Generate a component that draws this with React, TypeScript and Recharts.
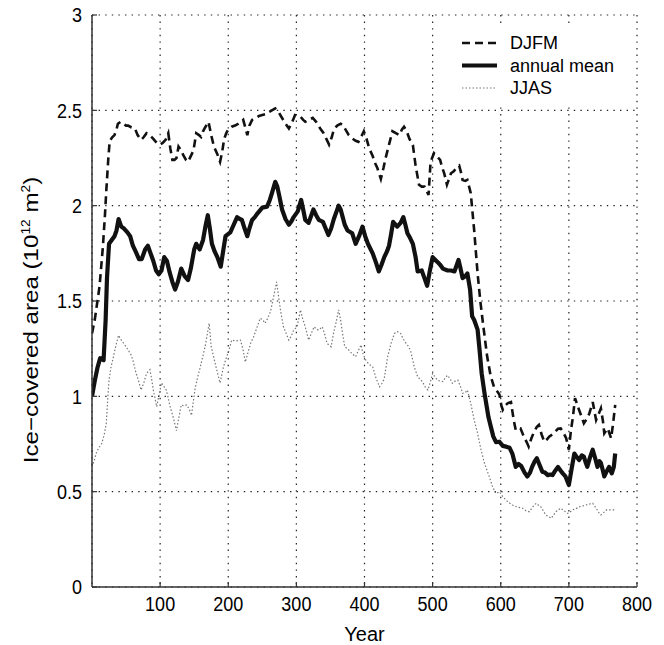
import { CartesianGrid, Label, Legend, Line, LineChart, XAxis, YAxis } from "recharts";

const FONT = '"Liberation Sans", Arial, Helvetica, sans-serif';
const AXIS = "#333";

const X_TICKS = [100, 200, 300, 400, 500, 600, 700, 800];
const Y_TICKS = [0, 0.5, 1, 1.5, 2, 2.5, 3];

// annual mean (solid)
const meanYears = [0, 4, 8, 12, 17, 20, 22, 25, 29, 33, 36, 39, 43, 47, 52, 56, 60, 64, 69, 73, 78, 82, 86, 90, 94, 98, 102, 106, 110, 114, 118, 122, 126, 131, 136, 141, 145, 150, 153, 158, 163, 167, 170, 173, 176, 180, 184, 189, 192, 196, 203, 208, 213, 217, 220, 224, 228, 231, 235, 239, 243, 250, 257, 261, 264, 269, 272, 275, 279, 284, 289, 293, 296, 302, 307, 310, 313, 318, 322, 325, 329, 333, 339, 343, 347, 351, 355, 359, 362, 365, 368, 371, 375, 382, 387, 392, 397, 401, 405, 412, 417, 421, 425, 429, 433, 436, 439, 442, 448, 453, 457, 460, 463, 467, 471, 475, 478, 484, 488, 492, 496, 500, 507, 511, 515, 522, 527, 532, 538, 541, 544, 548, 551, 555, 558, 561, 566, 569, 572, 576, 582, 589, 593, 598, 603, 608, 613, 617, 622, 626, 630, 635, 639, 643, 646, 650, 653, 657, 661, 665, 669, 673, 676, 680, 684, 688, 691, 695, 700, 704, 708, 712, 715, 719, 722, 725, 727, 731, 735, 739, 742, 745, 747, 750, 752, 756, 759, 763, 766, 768];
const meanValues = [1.0, 1.08, 1.15, 1.2, 1.19, 1.4, 1.62, 1.8, 1.82, 1.84, 1.87, 1.93, 1.89, 1.88, 1.86, 1.84, 1.79, 1.76, 1.72, 1.72, 1.77, 1.79, 1.75, 1.71, 1.66, 1.64, 1.66, 1.73, 1.71, 1.65, 1.6, 1.56, 1.6, 1.67, 1.63, 1.61, 1.67, 1.77, 1.8, 1.77, 1.82, 1.9, 1.95, 1.88, 1.8, 1.76, 1.73, 1.68, 1.75, 1.84, 1.86, 1.9, 1.94, 1.93, 1.925, 1.88, 1.84, 1.88, 1.925, 1.94, 1.96, 1.99, 1.995, 2.03, 2.065, 2.125, 2.1, 2.05, 1.98, 1.93, 1.9, 1.92, 1.94, 1.97, 2.03, 1.98, 1.925, 1.91, 1.95, 1.98, 1.95, 1.925, 1.915, 1.88, 1.846, 1.88, 1.93, 1.97, 2.0, 1.98, 1.94, 1.9, 1.87, 1.855, 1.8, 1.84, 1.89, 1.84, 1.8, 1.75, 1.7, 1.655, 1.69, 1.73, 1.76, 1.79, 1.85, 1.915, 1.89, 1.91, 1.94, 1.9, 1.855, 1.83, 1.8, 1.73, 1.655, 1.66, 1.62, 1.58, 1.66, 1.73, 1.705, 1.69, 1.67, 1.66, 1.66, 1.655, 1.715, 1.67, 1.62, 1.63, 1.645, 1.56, 1.42, 1.4, 1.35, 1.24, 1.12, 1.02, 0.89, 0.79, 0.76, 0.762, 0.74, 0.736, 0.73, 0.7, 0.63, 0.645, 0.635, 0.6, 0.58, 0.6, 0.63, 0.66, 0.675, 0.64, 0.605, 0.6, 0.587, 0.59, 0.587, 0.61, 0.63, 0.61, 0.596, 0.58, 0.535, 0.62, 0.7, 0.68, 0.666, 0.69, 0.684, 0.65, 0.63, 0.68, 0.72, 0.67, 0.63, 0.66, 0.65, 0.61, 0.58, 0.61, 0.63, 0.596, 0.63, 0.7];

// DJFM (dashed)
const djfmYears = [0, 4, 8, 11, 14, 16, 19, 21, 24, 26, 30, 33, 36, 38, 42, 46, 50, 53, 58, 63, 67, 72, 76, 80, 85, 90, 95, 100, 104, 108, 112, 115, 118, 121, 124, 127, 131, 134, 138, 141, 145, 149, 153, 157, 160, 163, 166, 171, 175, 179, 184, 188, 191, 194, 197, 200, 205, 210, 215, 219, 222, 225, 228, 231, 235, 240, 245, 250, 255, 259, 264, 269, 274, 279, 284, 289, 294, 298, 302, 306, 310, 313, 318, 324, 329, 335, 340, 344, 348, 352, 355, 360, 365, 369, 372, 377, 382, 387, 391, 395, 399, 403, 407, 412, 416, 419, 424, 428, 431, 436, 441, 446, 451, 455, 458, 462, 466, 471, 475, 480, 484, 488, 491, 494, 497, 502, 506, 511, 514, 517, 521, 524, 527, 531, 535, 539, 542, 544, 548, 551, 556, 561, 566, 570, 574, 580, 585, 590, 594, 598, 601, 603, 606, 610, 615, 619, 622, 626, 629, 634, 638, 641, 645, 649, 653, 656, 660, 664, 668, 671, 676, 680, 684, 688, 692, 696, 700, 703, 706, 709, 712, 715, 719, 722, 726, 730, 735, 740, 744, 747, 750, 752, 757, 762, 765, 768];
const djfmValues = [1.33, 1.4, 1.5, 1.575, 1.7, 1.785, 1.95, 2.08, 2.25, 2.34, 2.36, 2.37, 2.4, 2.43, 2.44, 2.43, 2.42, 2.42, 2.41, 2.405, 2.37, 2.345, 2.36, 2.38, 2.37, 2.35, 2.33, 2.32, 2.33, 2.345, 2.38, 2.3, 2.24, 2.24, 2.25, 2.31, 2.29, 2.265, 2.24, 2.23, 2.26, 2.29, 2.38, 2.37, 2.36, 2.39, 2.41, 2.44, 2.37, 2.31, 2.27, 2.23, 2.28, 2.35, 2.38, 2.4, 2.414, 2.42, 2.43, 2.44, 2.45, 2.41, 2.37, 2.42, 2.45, 2.46, 2.47, 2.475, 2.48, 2.49, 2.5, 2.51, 2.49, 2.46, 2.43, 2.405, 2.44, 2.475, 2.47, 2.467, 2.45, 2.44, 2.45, 2.46, 2.44, 2.405, 2.38, 2.35, 2.32, 2.36, 2.4, 2.42, 2.43, 2.42, 2.4, 2.37, 2.353, 2.34, 2.335, 2.36, 2.39, 2.35, 2.3, 2.26, 2.22, 2.196, 2.14, 2.2, 2.25, 2.32, 2.39, 2.38, 2.37, 2.4, 2.414, 2.39, 2.35, 2.318, 2.21, 2.11, 2.1, 2.1, 2.08, 2.056, 2.23, 2.275, 2.26, 2.24, 2.2, 2.17, 2.11, 2.14, 2.17, 2.18, 2.2, 2.21, 2.17, 2.135, 2.13, 2.135, 2.065, 1.87, 1.645, 1.5, 1.38, 1.21, 1.11, 1.05, 1.03, 1.01, 0.95, 0.93, 0.95, 0.963, 0.97, 0.876, 0.823, 0.83, 0.832, 0.788, 0.76, 0.736, 0.78, 0.815, 0.84, 0.85, 0.8, 0.762, 0.775, 0.788, 0.8, 0.815, 0.83, 0.832, 0.81, 0.78, 0.72, 0.82, 0.893, 0.99, 0.96, 0.928, 0.89, 0.858, 0.88, 0.91, 0.97, 0.876, 0.91, 0.937, 0.87, 0.806, 0.832, 0.78, 0.86, 0.955];

// JJAS (dotted)
const jjasYears = [0, 3, 6, 10, 14, 18, 21, 23, 25, 28, 31, 33, 36, 39, 42, 46, 50, 53, 57, 60, 64, 68, 72, 76, 80, 85, 88, 90, 95, 98, 102, 106, 109, 112, 114, 119, 124, 127, 131, 135, 139, 143, 146, 151, 155, 158, 162, 166, 172, 175, 179, 183, 188, 193, 197, 201, 205, 211, 218, 222, 225, 229, 233, 237, 240, 244, 247, 251, 254, 258, 262, 267, 271, 274, 277, 281, 285, 289, 293, 296, 301, 306, 309, 313, 318, 322, 326, 330, 333, 338, 342, 345, 351, 355, 358, 362, 365, 367, 371, 375, 379, 383, 387, 391, 395, 398, 402, 406, 412, 417, 422, 426, 429, 434, 439, 444, 448, 453, 457, 461, 465, 468, 473, 478, 485, 489, 493, 497, 500, 504, 507, 511, 515, 519, 522, 526, 529, 533, 537, 541, 544, 548, 551, 556, 561, 566, 571, 576, 583, 588, 593, 598, 603, 610, 617, 624, 632, 637, 642, 647, 652, 655, 659, 666, 670, 674, 678, 681, 688, 693, 698, 701, 705, 710, 715, 720, 725, 730, 735, 740, 744, 747, 751, 755, 762, 768];
const jjasValues = [0.63, 0.66, 0.7, 0.73, 0.75, 0.8, 0.86, 0.98, 1.085, 1.155, 1.2, 1.234, 1.28, 1.32, 1.3, 1.28, 1.26, 1.243, 1.22, 1.19, 1.13, 1.085, 1.033, 1.07, 1.12, 1.14, 1.08, 1.033, 0.946, 1.0, 1.07, 1.05, 1.033, 0.99, 0.955, 0.893, 0.82, 0.88, 0.955, 0.95, 0.955, 0.93, 0.9, 1.033, 1.1, 1.14, 1.2, 1.26, 1.383, 1.26, 1.2, 1.14, 1.07, 1.155, 1.2, 1.24, 1.295, 1.29, 1.295, 1.24, 1.18, 1.23, 1.28, 1.31, 1.34, 1.38, 1.41, 1.4, 1.383, 1.41, 1.444, 1.53, 1.6, 1.52, 1.444, 1.365, 1.33, 1.295, 1.32, 1.348, 1.365, 1.453, 1.41, 1.365, 1.295, 1.33, 1.365, 1.35, 1.348, 1.365, 1.32, 1.278, 1.26, 1.34, 1.383, 1.453, 1.4, 1.348, 1.26, 1.25, 1.234, 1.22, 1.208, 1.24, 1.27, 1.22, 1.19, 1.17, 1.155, 1.094, 1.05, 1.07, 1.094, 1.208, 1.278, 1.33, 1.34, 1.33, 1.3, 1.278, 1.26, 1.234, 1.155, 1.103, 1.077, 1.05, 1.033, 1.08, 1.12, 1.1, 1.085, 1.08, 1.077, 1.1, 1.11, 1.09, 1.068, 1.08, 1.085, 1.05, 1.016, 1.02, 1.033, 0.963, 0.876, 0.806, 0.72, 0.65, 0.58, 0.526, 0.49, 0.5, 0.474, 0.448, 0.43, 0.42, 0.413, 0.4, 0.395, 0.42, 0.439, 0.43, 0.42, 0.378, 0.37, 0.36, 0.38, 0.395, 0.413, 0.4, 0.386, 0.39, 0.404, 0.41, 0.42, 0.425, 0.43, 0.435, 0.439, 0.413, 0.39, 0.378, 0.39, 0.404, 0.404, 0.404];

const toPoints = (years: number[], values: number[]) => years.map((year, i) => ({ year, v: values[i] }));

const meanData = toPoints(meanYears, meanValues);
const djfmData = toPoints(djfmYears, djfmValues);
const jjasData = toPoints(jjasYears, jjasValues);

const SERIES = [
  { name: "DJFM", stroke: "#111", width: 2.6, dash: "8 5" },
  { name: "annual mean", stroke: "#111", width: 4.2, dash: undefined },
  { name: "JJAS", stroke: "#777", width: 1.2, dash: "1.5 2" },
];

// the source figure's text is a little taller than it is wide
function XTick({ x, y, payload }: any) {
  return (
    <text transform={`translate(${x},${y}) scale(1,1.12)`} textAnchor="middle" dy="0.71em" fontSize={18} fontFamily={FONT} fill="#000">
      {payload.value}
    </text>
  );
}

function YTick({ x, y, payload }: any) {
  return (
    <text transform={`translate(${x},${y}) scale(1,1.12)`} textAnchor="end" dy="0.355em" fontSize={18} fontFamily={FONT} fill="#000">
      {payload.value}
    </text>
  );
}

function YTitle({ viewBox }: any) {
  const x = viewBox.x + 30;
  const y = viewBox.y + viewBox.height / 2 + 19;
  return (
    <text
      transform={`translate(${x},${y}) rotate(-90) scale(1.15,1)`}
      textAnchor="middle"
      fontSize={21}
      fontFamily={FONT}
      fill="#000"
    >
      Ice−covered area (10
      <tspan dy={-8} fontSize={12}>12</tspan>
      <tspan dy={8}> m</tspan>
      <tspan dy={-8} fontSize={12}>2</tspan>
      <tspan dy={8}>)</tspan>
    </text>
  );
}

function XTitle({ viewBox }: any) {
  return (
    <text x={viewBox.x + viewBox.width / 2} y={viewBox.y + 54} textAnchor="middle" fontSize={20} fontFamily={FONT} fill="#000">
      Year
    </text>
  );
}

function LegendBox() {
  return (
    <svg width={172} height={78} style={{ display: "block" }}>
      {SERIES.map((s, i) => {
        const y = 16 + i * 22.5;
        return (
          <g key={s.name}>
            <line x1={7} x2={42} y1={y} y2={y} stroke={s.stroke} strokeWidth={s.width} strokeDasharray={s.dash} />
            <text x={55} y={y} dominantBaseline="central" fontSize={18} fontFamily={FONT} fill="#000">
              {s.name}
            </text>
          </g>
        );
      })}
    </svg>
  );
}

export default function App() {
  return (
    <div style={{ marginTop: -8 }}>
      <LineChart width={656} height={645} margin={{ top: 15, right: 27, bottom: 0, left: 0 }}>
        <CartesianGrid stroke="#222" strokeDasharray="1.4 5.2" strokeWidth={1.2} />
        <XAxis
          dataKey="year"
          type="number"
          domain={[0, 800]}
          ticks={X_TICKS}
          allowDataOverflow
          height={58}
          tickSize={-5}
          tickMargin={15}
          tick={<XTick />}
          axisLine={{ stroke: AXIS, strokeWidth: 1.5 }}
          tickLine={{ stroke: AXIS, strokeWidth: 1.2 }}
        >
          <Label content={<XTitle />} />
        </XAxis>
        <XAxis
          xAxisId="top"
          orientation="top"
          type="number"
          domain={[0, 800]}
          ticks={X_TICKS}
          height={0}
          tickSize={-5}
          tick={false}
          axisLine={{ stroke: AXIS, strokeWidth: 1.5 }}
          tickLine={{ stroke: AXIS, strokeWidth: 1.2 }}
        />
        <YAxis
          type="number"
          domain={[0, 3]}
          ticks={Y_TICKS}
          width={84}
          tickSize={-5}
          tickMargin={15}
          tick={<YTick />}
          axisLine={{ stroke: AXIS, strokeWidth: 1.5 }}
          tickLine={{ stroke: AXIS, strokeWidth: 1.2 }}
        >
          <Label content={<YTitle />} />
        </YAxis>
        <YAxis
          yAxisId="right"
          orientation="right"
          type="number"
          domain={[0, 3]}
          ticks={Y_TICKS}
          width={0}
          tickSize={-5}
          tick={false}
          axisLine={{ stroke: AXIS, strokeWidth: 1.5 }}
          tickLine={{ stroke: AXIS, strokeWidth: 1.2 }}
        />
        <Legend
          layout="vertical"
          align="center"
          verticalAlign="middle"
          wrapperStyle={{ position: "absolute", left: 447, top: 27, width: 172, height: 78, background: "#fff" }}
          content={() => <LegendBox />}
        />
        <Line data={jjasData} dataKey="v" name="JJAS" type="linear" stroke={SERIES[2].stroke} strokeWidth={SERIES[2].width} strokeDasharray={SERIES[2].dash} dot={false} activeDot={false} isAnimationActive={false} />
        <Line data={djfmData} dataKey="v" name="DJFM" type="linear" stroke={SERIES[0].stroke} strokeWidth={SERIES[0].width} strokeDasharray={SERIES[0].dash} dot={false} activeDot={false} isAnimationActive={false} />
        <Line data={meanData} dataKey="v" name="annual mean" type="linear" stroke={SERIES[1].stroke} strokeWidth={SERIES[1].width} strokeLinejoin="round" dot={false} activeDot={false} isAnimationActive={false} />
      </LineChart>
    </div>
  );
}
